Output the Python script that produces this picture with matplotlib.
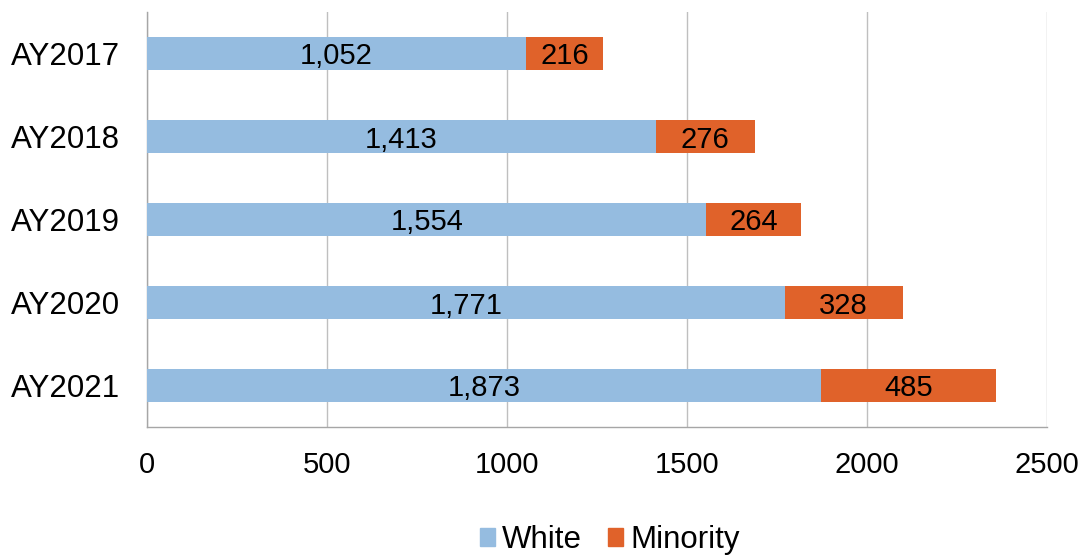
import matplotlib
matplotlib.use("Agg")
import matplotlib.pyplot as plt
from matplotlib.patches import Patch

years = ["AY2017", "AY2018", "AY2019", "AY2020", "AY2021"]
white = [1052, 1413, 1554, 1771, 1873]
minority = [216, 276, 264, 328, 485]
xticks = [0, 500, 1000, 1500, 2000, 2500]

c_white = "#95BCE0"
c_min = "#E0622A"
fs = 21
fs_big = 22.5

plt.rcParams['font.family'] = ['Liberation Sans', 'DejaVu Sans']

fig = plt.figure(figsize=(10.85, 5.57), dpi=100)
ax = fig.add_axes([147/1085, 1-427/557, 900/1085, 415/557])

y = list(range(len(years)))
ax.barh(y, white, height=0.4, color=c_white, zorder=3)
ax.barh(y, minority, left=white, height=0.4, color=c_min, zorder=3)

for i in y:
    ax.text(white[i]/2, i, f"{white[i]:,}", ha="center", va="center_baseline", fontsize=fs, zorder=4)
    ax.text(white[i] + minority[i]/2, i, f"{minority[i]:,}", ha="center", va="center_baseline", fontsize=fs, zorder=4)

ax.set_ylim(len(years)-0.5, -0.5)
ax.set_yticks(y)
ax.set_yticklabels(years, fontsize=fs_big)
ax.set_xlim(0, 2500)
ax.set_xticks(xticks)
ax.set_xticklabels([str(t) for t in xticks], fontsize=fs)
ax.grid(axis="x", color="#BFBFBF", linewidth=1, zorder=0)
ax.tick_params(length=0)
ax.tick_params(axis="y", pad=19.5)
ax.tick_params(axis="x", pad=17)
for s in ["top", "right"]:
    ax.spines[s].set_visible(False)
for s in ["left", "bottom"]:
    ax.spines[s].set_color("#A6A6A6")
    ax.spines[s].set_linewidth(1)

handles = [Patch(color=c_white, label="White"), Patch(color=c_min, label="Minority")]
fig.legend(handles=handles, loc="center", bbox_to_anchor=(610/1085, 1-540/557), ncol=2,
           frameon=False, fontsize=fs_big, handlelength=0.48, handleheight=0.48,
           handletextpad=0.22, columnspacing=0.83)

fig.savefig("out.png", dpi=100)
